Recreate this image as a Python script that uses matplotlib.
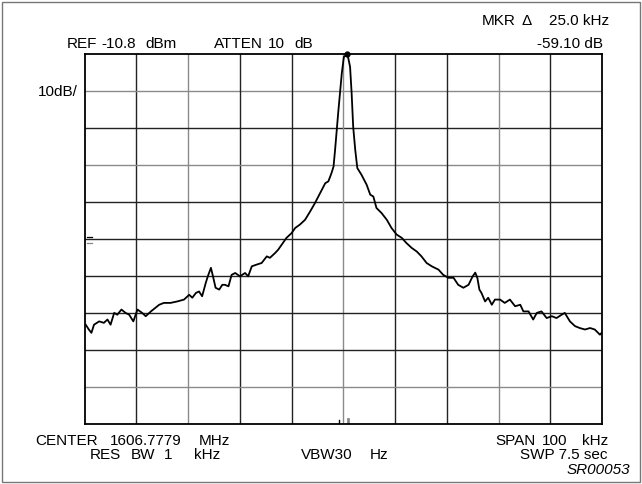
import matplotlib.pyplot as plt
from matplotlib.patches import Rectangle

plt.rcParams['font.family'] = ['Liberation Sans', 'DejaVu Sans']

# analyzer settings shown on screen
ref_dbm = -10.8
db_per_div = 10
span_khz = 100
n_div = 10

# trace (offset from center, kHz / level, dBm)
freq_khz = [-49.8, -49.2, -48.7, -48.2, -47.2, -46.3, -45.6, -45.0, -44.3, -43.7,
            -42.9, -42.1, -41.4, -40.6, -39.8, -38.9, -38.2, -37.2, -36.3, -35.6,
            -34.7, -33.4, -32.1, -30.8, -29.8, -29.2, -28.5, -27.9, -27.3, -26.6,
            -26.2, -25.6, -25.2, -24.7, -24.0, -23.4, -22.9, -22.2, -21.6, -20.9,
            -20.0, -19.0, -18.4, -17.7, -16.7, -15.8, -14.8, -14.2, -13.2, -12.6,
            -11.9, -11.0, -10.0, -9.3, -8.4, -7.4, -6.4, -5.5, -4.5, -3.5,
            -2.9, -2.3, -1.9, -1.6, -1.0, -0.3, 0.1, 0.8, 1.3, 1.6,
            1.9, 2.3, 2.7, 3.5, 4.5, 5.2, 5.8, 6.4, 7.4, 8.4,
            9.3, 10.3, 11.3, 12.2, 13.2, 14.2, 15.1, 16.1, 17.1, 18.4,
            19.3, 20.3, 21.3, 22.2, 23.2, 24.2, 25.0, 25.5, 25.9, 26.3,
            26.7, 27.4, 28.0, 28.7, 29.3, 30.3, 31.2, 32.2, 33.2, 34.2,
            34.8, 35.8, 36.7, 37.4, 38.3, 39.3, 40.3, 41.2, 42.2, 42.8,
            43.8, 44.8, 45.7, 46.7, 47.7, 48.6, 49.6, 50.0]
level_dbm = [-84.0, -85.3, -86.2, -84.0, -83.1, -83.5, -82.6, -84.0, -80.8, -81.3,
             -79.9, -80.8, -81.3, -83.1, -79.9, -80.8, -81.7, -80.4, -79.4, -78.6,
             -78.1, -78.1, -77.7, -77.2, -75.9, -76.7, -75.4, -75.0, -76.3, -72.7,
             -70.9, -68.6, -70.9, -74.0, -74.5, -73.2, -73.2, -73.6, -70.5, -70.0,
             -70.9, -70.0, -70.9, -68.2, -67.7, -67.3, -65.5, -65.9, -64.6, -63.7,
             -62.3, -60.5, -59.2, -57.8, -56.9, -55.6, -53.3, -51.1, -48.4, -45.7,
             -45.2, -43.0, -41.2, -36.7, -26.7, -15.9, -11.5, -10.8, -14.2, -21.3,
             -30.4, -36.7, -41.6, -43.4, -46.1, -48.8, -49.3, -52.4, -53.8, -55.6,
             -57.8, -59.6, -60.5, -61.9, -63.2, -64.2, -65.5, -67.3, -68.2, -69.1,
             -70.5, -71.3, -71.3, -73.2, -74.0, -73.2, -70.9, -69.9, -71.3, -74.5,
             -75.4, -77.7, -76.7, -78.6, -77.2, -77.2, -78.1, -77.2, -79.0, -78.6,
             -80.4, -80.4, -82.6, -80.8, -80.4, -82.2, -81.7, -82.2, -81.3, -80.8,
             -83.1, -84.4, -84.9, -85.3, -84.9, -85.3, -86.7, -86.1]

peak_khz = 0.8
marker_khz = [-0.8, 0.9]

W, H = 642, 484
fig = plt.figure(figsize=(W / 100, H / 100), dpi=100)
fig.patch.set_facecolor('white')
fig.patches.append(Rectangle((2 / W, 2 / H), 1 - 4 / W, 1 - 4 / H, transform=fig.transFigure,
                             fill=False, edgecolor='#777777', linewidth=1.0))

ax = fig.add_axes([84.7 / W, 1 - 423.7 / H, 517.3 / W, 369.4 / H])
bottom_dbm = ref_dbm - n_div * db_per_div
ax.set_xlim(-span_khz / 2, span_khz / 2)
ax.set_ylim(bottom_dbm, ref_dbm)
ax.set_xticks([])
ax.set_yticks([])
for s in ax.spines.values():
    s.set_linewidth(1.3)
    s.set_color('black')

# graticule (some lines come out lighter on the scan)
for i in range(1, n_div):
    c = '#8a8a8a' if i in (2, 5, 8) else '#222222'
    ax.axvline(-span_khz / 2 + i * span_khz / n_div, color=c, lw=1.0, zorder=1)
    c = '#8a8a8a' if i in (1, 3, 9) else '#222222'
    ax.axhline(ref_dbm - i * db_per_div, color=c, lw=1.0, zorder=1)

ax.plot(freq_khz, level_dbm, color='black', lw=1.3, zorder=3)
ax.plot([peak_khz], [ref_dbm], 'o', color='black', ms=3.5, clip_on=False, zorder=4)

# small marker ticks on the bottom edge and display-line marks on the left
ax.plot([marker_khz[0]] * 2, [bottom_dbm, bottom_dbm + 1.0], color='black', lw=1.0, zorder=2)
ax.plot([marker_khz[1]] * 2, [bottom_dbm, bottom_dbm + 1.2], color='#888888', lw=2.0, zorder=2)
ax.plot([-49.6, -48.5], [-60.3, -60.3], color='black', lw=0.9)
ax.plot([-49.6, -48.5], [-61.8, -61.8], color='#888888', lw=0.9)


def label(x, y, s, ha='left', **kw):
    fig.text(x / W, 1 - y / H, s, ha=ha, va='center', fontsize=11, **kw)


# header
label(482, 21, 'MKR')
label(522, 21, '\u0394')
label(609, 21, '25.0 kHz', ha='right')
label(67, 44, 'REF')
label(101, 44, '-10.8')
label(145, 44, 'dBm')
label(214, 44, 'ATTEN')
label(268, 44, '10')
label(294, 44, 'dB')
label(603, 44, '-59.10 dB', ha='right')
label(78, 92, '10dB/', ha='right')

# footer
label(35, 441, 'CENTER')
label(110, 441, '1606.7779')
label(199, 441, 'MHz')
label(90, 455, 'RES')
label(131, 455, 'BW')
label(164, 455, '1')
label(194, 455, 'kHz')
label(301, 455, 'VBW30')
label(370, 455, 'Hz')
label(495, 441, 'SPAN')
label(542, 441, '100')
label(608, 441, 'kHz', ha='right')
label(608, 455, 'SWP 7.5 sec', ha='right')
label(630, 470, 'SR00053', ha='right', style='italic')

fig.savefig('out.png', dpi=100)
